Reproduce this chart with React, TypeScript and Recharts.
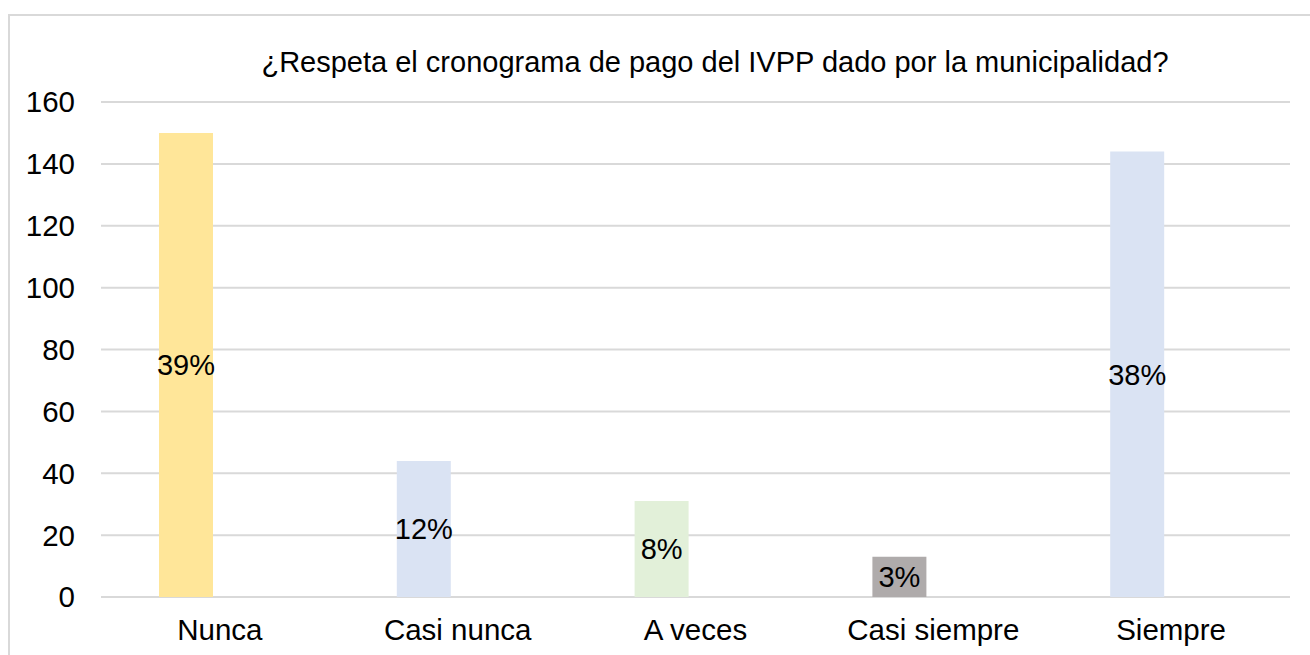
import React from "react";
import { BarChart, Bar, XAxis, YAxis, CartesianGrid, Cell, LabelList } from "recharts";

const categories = ["Nunca", "Casi nunca", "A veces", "Casi siempre", "Siempre"];
const counts = [150, 44, 31, 13, 144];
const percentLabels = ["39%", "12%", "8%", "3%", "38%"];
const emptySeries = [0, 0, 0, 0, 0];
const barColors = ["#FFE699", "#DAE3F3", "#E2F0D9", "#AFABAB", "#DAE3F3"];
const yTicks = [0, 20, 40, 60, 80, 100, 120, 140, 160];
const title = "¿Respeta el cronograma de pago del IVPP dado por la municipalidad?";

const data = categories.map((c, i) => ({
  name: c,
  value: counts[i],
  label: percentLabels[i],
  empty: emptySeries[i],
}));

const FONT = '"Liberation Sans", Arial, sans-serif';

export default function App() {
  return (
    <div style={{ position: "absolute", left: 0, top: 0, width: 1310, height: 655, overflow: "hidden", background: "#fff", fontFamily: FONT }}>
      <div style={{ position: "absolute", left: 8, top: 14, width: 1400, height: 800, border: "2px solid #D9D9D9", boxSizing: "border-box" }} />
      <BarChart
        width={1310}
        height={655}
        data={data}
        margin={{ top: 102, right: 20, bottom: 0, left: 21 }}
        barSize={54}
        barGap={14}
        style={{ position: "absolute", left: 0, top: 0 }}
      >
        <text x={715} y={72} textAnchor="middle" fontSize={29} fontFamily={FONT} fill="#000">{title}</text>
        <CartesianGrid vertical={false} stroke="#D9D9D9" strokeWidth={2} />
        <XAxis
          dataKey="name"
          axisLine={false}
          tickLine={false}
          tickSize={0}
          tickMargin={22}
          height={58}
          interval={0}
          tick={{ fontSize: 29.5, fill: "#000", fontFamily: FONT }}
        />
        <YAxis
          domain={[0, 160]}
          ticks={yTicks}
          axisLine={false}
          tickLine={false}
          tickSize={0}
          tickMargin={26}
          width={80}
          interval={0}
          tick={{ fontSize: 29.5, fill: "#000", fontFamily: FONT }}
        />
        <Bar dataKey="value" isAnimationActive={false}>
          {data.map((d, i) => (
            <Cell key={d.name} fill={barColors[i]} />
          ))}
          <LabelList dataKey="label" position="center" fontSize={29} fill="#000" fontFamily={FONT} />
        </Bar>
        <Bar dataKey="empty" isAnimationActive={false} fill="#FFFFFF" />
      </BarChart>
    </div>
  );
}
